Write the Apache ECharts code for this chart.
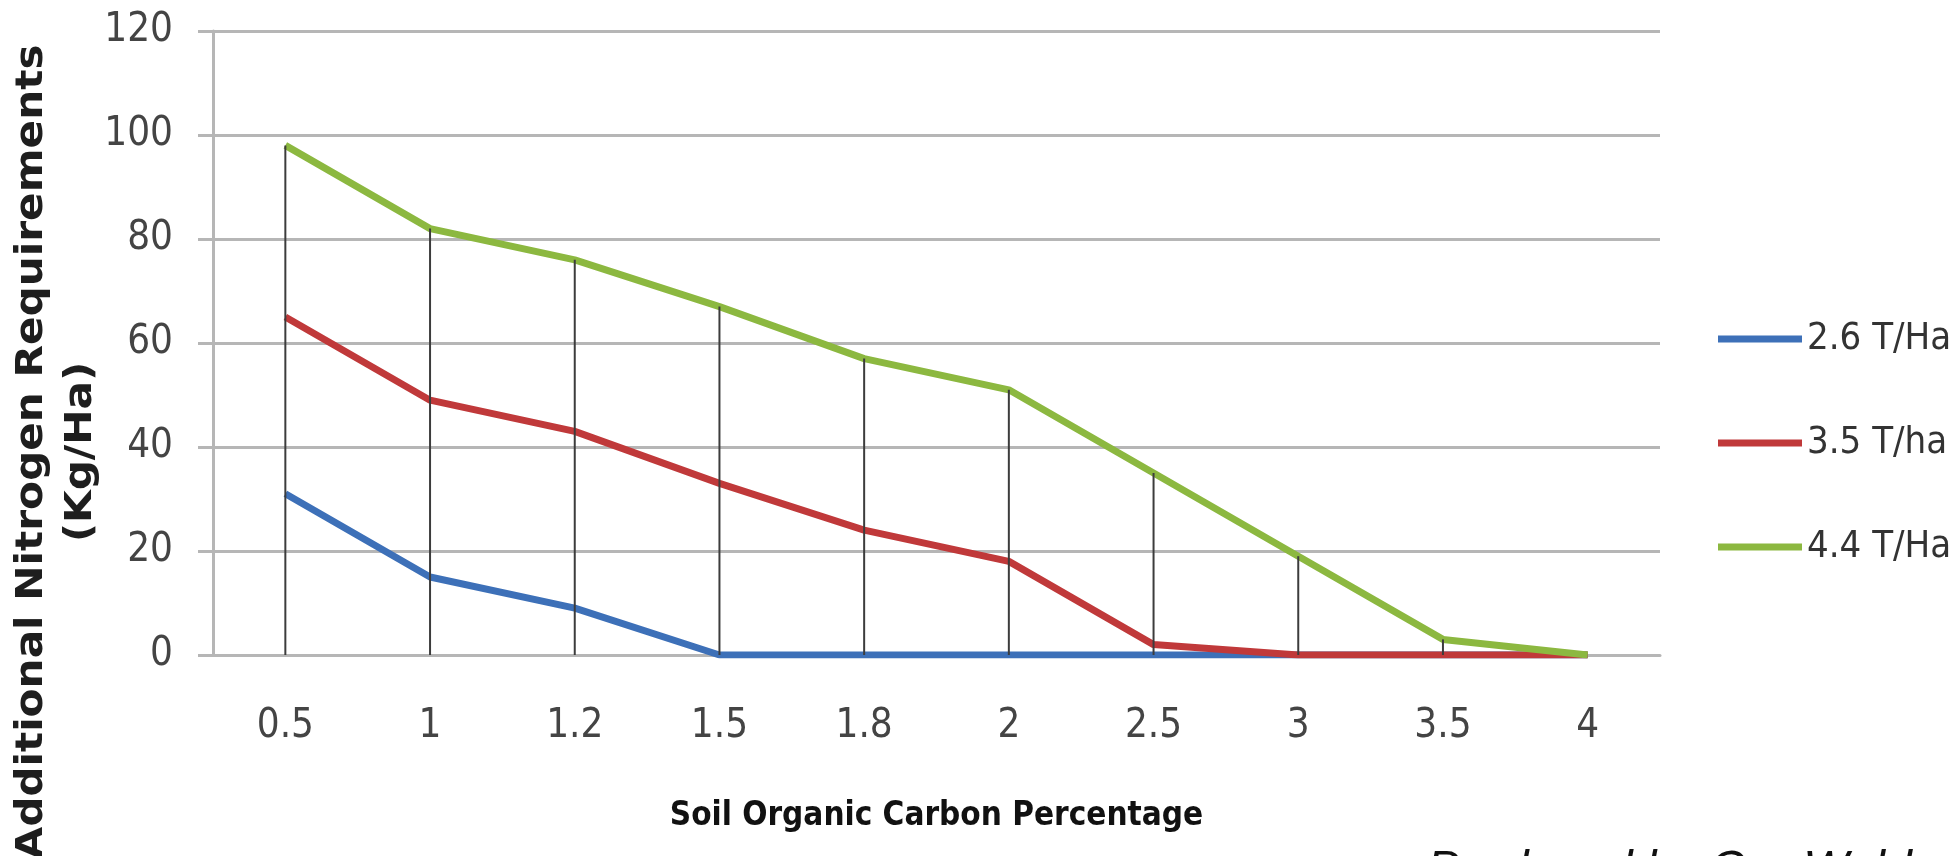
<!DOCTYPE html>
<html>
<head>
<meta charset="utf-8">
<title>Additional Nitrogen Requirements</title>
<script src="https://cdn.jsdelivr.net/npm/echarts@6/dist/echarts.min.js"></script>
<style>
  html, body { margin: 0; padding: 0; background: #fff; }
  #chart { width: 1959px; height: 856px; }
</style>
</head>
<body>
<div id="chart"></div>
<script>
// soil organic carbon % (x categories)
const carbon = ['0.5', '1', '1.2', '1.5', '1.8', '2', '2.5', '3', '3.5', '4'];
// additional N requirement (kg/ha) per yield target
const yield26 = [31, 15, 9, 0, 0, 0, 0, 0, 0, 0];
const yield35 = [65, 49, 43, 33, 24, 18, 2, 0, 0, 0];
const yield44 = [98, 82, 76, 67, 57, 51, 35, 19, 3, 0];
const seriesNames = ['2.6 T/Ha', '3.5 T/ha', '4.4 T/Ha'];
const yTicks = [0, 20, 40, 60, 80, 100, 120];

// drop lines go from the highest series down to the axis
const dropTop = carbon.map((c, i) => Math.max(yield26[i], yield35[i], yield44[i]));

const narrow = '"DejaVu Sans Condensed", "Liberation Sans Narrow", sans-serif';
const gridGray = '#b6b6b6';

const chart = echarts.init(document.getElementById('chart'));

const option = {
  animation: false,
  backgroundColor: '#fff',
  grid: { left: 213, right: 299, top: 31, bottom: 201 },
  legend: {
    orient: 'vertical',
    left: 1718,
    top: 313,
    padding: 0,
    itemGap: 52,
    itemWidth: 84,
    itemHeight: 7,
    icon: 'rect',
    data: seriesNames,
    textStyle: { fontFamily: narrow, fontSize: 38, lineHeight: 52, color: '#333' },
  },
  xAxis: {
    type: 'category',
    data: carbon,
    boundaryGap: true,
    name: 'Soil Organic Carbon Percentage',
    nameLocation: 'middle',
    nameGap: 145,
    nameTextStyle: { fontFamily: narrow, fontSize: 33, fontWeight: 'bold', color: '#111' },
    axisLine: { show: true, lineStyle: { color: gridGray, width: 3 } },
    axisTick: { show: false },
    axisLabel: { fontFamily: narrow, fontSize: 40, color: '#444', margin: 52 },
  },
  yAxis: {
    type: 'value',
    min: yTicks[0],
    max: yTicks[yTicks.length - 1],
    interval: 20,
    axisLine: { show: true, lineStyle: { color: gridGray, width: 3 } },
    axisTick: { show: true, length: 15, lineStyle: { color: gridGray, width: 3 } },
    axisLabel: { fontFamily: narrow, fontSize: 40, color: '#444', margin: 40 },
    splitLine: { show: true, lineStyle: { color: gridGray, width: 3 } },
  },
  graphic: [
    {
      // y axis title, two lines, sits lower than the plot centre like the original
      // (stretched along its length, the source image is stretched that way)
      type: 'text',
      x: 57,
      y: 452,
      rotation: Math.PI / 2,
      scaleX: 1.14,
      style: {
        text: 'Additional Nitrogen Requirements\n(Kg/Ha)',
        fontFamily: '"DejaVu Sans", sans-serif',
        fontWeight: 'bold',
        fontSize: 37,
        lineHeight: 49,
        fill: '#1e1e1e',
        align: 'center',
        verticalAlign: 'middle',
      },
    },
    {
      type: 'text',
      left: 1427,
      top: 847,
      style: {
        text: 'Produced by Org Weld',
        fontFamily: '"Liberation Sans", Arial, sans-serif',
        fontStyle: 'italic',
        fontSize: 48,
        fill: '#111',
      },
    },
  ],
  series: [
    {
      name: seriesNames[0],
      type: 'line',
      data: yield26,
      symbol: 'none',
      color: '#3d70b8',
      lineStyle: { width: 7 },
      z: 2,
    },
    {
      name: seriesNames[1],
      type: 'line',
      data: yield35,
      symbol: 'none',
      color: '#c0393a',
      lineStyle: { width: 7 },
      z: 3,
    },
    {
      name: seriesNames[2],
      type: 'line',
      data: yield44,
      symbol: 'none',
      color: '#8cb840',
      lineStyle: { width: 7 },
      z: 4,
    },
    {
      // drop lines
      name: 'drop',
      type: 'bar',
      data: dropTop,
      barWidth: 2,
      itemStyle: { color: '#3c3c3c' },
      z: 5,
    },
  ],
};

chart.setOption(option);
</script>
</body>
</html>
